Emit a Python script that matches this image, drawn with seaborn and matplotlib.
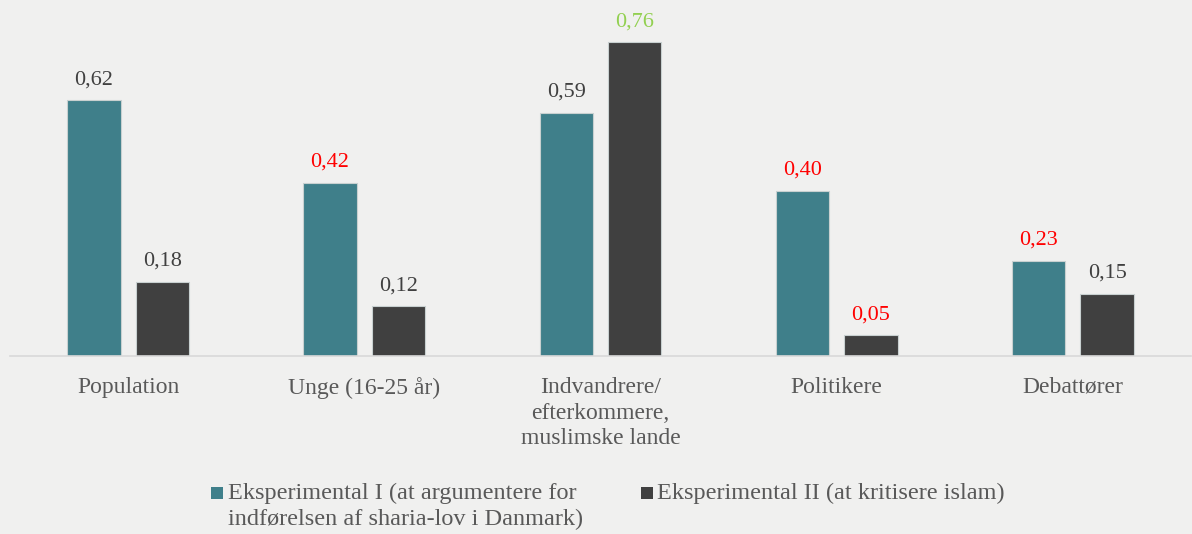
import pandas as pd
import matplotlib.pyplot as plt
import seaborn as sns
from matplotlib.patches import Rectangle

categories = ['Population', 'Unge (16-25 år)', 'Indvandrere/\nefterkommere,\nmuslimske lande',
              'Politikere', 'Debattører']
series_names = ['Eksperimental I (at argumentere for\nindførelsen af sharia-lov i Danmark)',
                'Eksperimental II (at kritisere islam)']
exp1 = [0.62, 0.42, 0.59, 0.40, 0.23]
exp2 = [0.18, 0.12, 0.76, 0.05, 0.15]
label_colors1 = ['#404040', '#FF0000', '#404040', '#FF0000', '#FF0000']
label_colors2 = ['#404040', '#404040', '#92D050', '#FF0000', '#404040']

colors = ['#3F7F8A', '#404040']
bg = '#F0F0EF'
txt = '#595959'

df = pd.DataFrame({
    'kategori': categories * 2,
    'gruppe': [series_names[0]] * 5 + [series_names[1]] * 5,
    'værdi': exp1 + exp2,
})

sns.set_style('white')
plt.rcParams['font.family'] = ['Liberation Serif', 'DejaVu Serif']

W, H = 1192, 534
fig = plt.figure(figsize=(W / 100, H / 100), dpi=100, facecolor=bg)
ax = fig.add_axes([10 / W, 178 / H, 1181 / W, 0.618])
ax.set_facecolor(bg)

sns.barplot(data=df, x='kategori', y='værdi', hue='gruppe', palette=colors,
            saturation=1, width=0.58, gap=0.22, edgecolor='#C8D0D0', linewidth=0.8,
            legend=False, ax=ax)

ax.set_ylim(0, 0.8)
ax.set_xlim(-0.5, 4.5)
ax.set_xlabel('')
ax.set_ylabel('')
ax.set_yticks([])
for s in ['top', 'left', 'right']:
    ax.spines[s].set_visible(False)
ax.spines['bottom'].set_color('#D9D9D9')
ax.spines['bottom'].set_linewidth(1.2)
ax.tick_params(axis='x', length=0, pad=15, labelsize=17, labelcolor=txt)
for lbl in ax.get_xticklabels():
    lbl.set_linespacing(1.3)

for container, vals, cols in zip(ax.containers, [exp1, exp2], [label_colors1, label_colors2]):
    labels = [f'{v:.2f}'.replace('.', ',') for v in vals]
    texts = ax.bar_label(container, labels=labels, padding=8, fontsize=16)
    for t, c in zip(texts, cols):
        t.set_color(c)

# legend, built by hand so the marker sits on the first text line
for (x_sq, x_txt), name, col in zip([(211, 228), (641, 657)], series_names, colors):
    fig.patches.append(Rectangle((x_sq / W, 1 - 499 / H), 12 / W, 12 / H,
                                 transform=fig.transFigure, facecolor=col,
                                 edgecolor='none'))
    fig.text(x_txt / W, 1 - 483 / H, name, fontsize=17.5, color=txt,
             va='top', ha='left', linespacing=1.3,
             transform=fig.transFigure)

fig.savefig('out.png', dpi=100, facecolor=bg)
